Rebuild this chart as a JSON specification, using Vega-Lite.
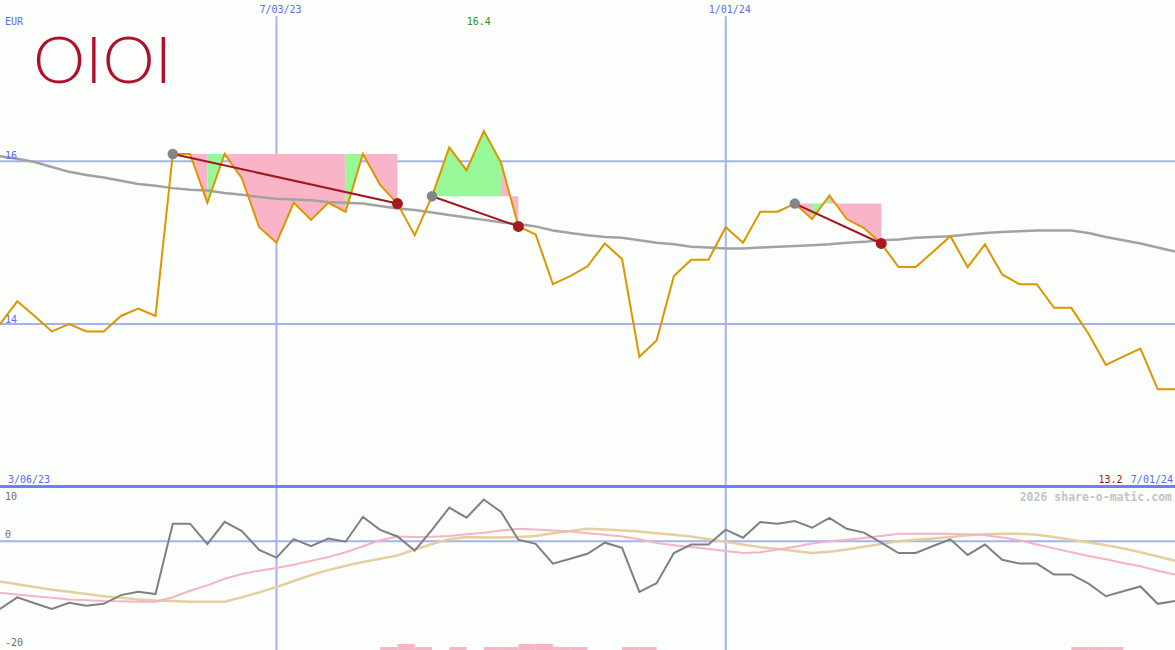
{
  "$schema": "https://vega.github.io/schema/vega-lite/v6.json",
  "background": "#fbfefb",
  "padding": 0,
  "spacing": 0,
  "config": {"view": {"stroke": null}, "axis": {"disable": true}, "legend": {"disable": true}},
  "datasets": {
    "px": [
      {"d":"2023-03-13","p":14.00,"ma":16.06,"m":-12.45,"a1":-9.45,"a2":-7.4},
      {"d":"2023-03-20","p":14.28,"ma":16.03,"m":-10.3,"a1":-9.8,"a2":-7.9},
      {"d":"2023-03-27","p":14.10,"ma":15.99,"m":-11.4,"a1":-10.1,"a2":-8.4},
      {"d":"2023-04-03","p":13.91,"ma":15.93,"m":-12.45,"a1":-10.4,"a2":-8.9},
      {"d":"2023-04-10","p":14.00,"ma":15.87,"m":-11.3,"a1":-10.7,"a2":-9.3},
      {"d":"2023-04-17","p":13.91,"ma":15.83,"m":-11.85,"a1":-10.85,"a2":-9.7},
      {"d":"2023-04-24","p":13.91,"ma":15.80,"m":-11.5,"a1":-11.0,"a2":-10.1},
      {"d":"2023-05-01","p":14.10,"ma":15.76,"m":-9.9,"a1":-11.05,"a2":-10.4},
      {"d":"2023-05-08","p":14.19,"ma":15.72,"m":-9.3,"a1":-11.1,"a2":-10.7},
      {"d":"2023-05-15","p":14.10,"ma":15.70,"m":-9.7,"a1":-11.1,"a2":-10.9},
      {"d":"2023-05-22","p":16.09,"ma":15.67,"m":3.25,"a1":-10.3,"a2":-11.0},
      {"d":"2023-05-29","p":16.09,"ma":15.65,"m":3.25,"a1":-9.1,"a2":-11.1},
      {"d":"2023-06-05","p":15.49,"ma":15.64,"m":-0.5,"a1":-8.1,"a2":-11.1},
      {"d":"2023-06-12","p":16.09,"ma":15.61,"m":3.6,"a1":-6.9,"a2":-11.1},
      {"d":"2023-06-19","p":15.79,"ma":15.59,"m":1.9,"a1":-6.0,"a2":-10.3},
      {"d":"2023-06-26","p":15.19,"ma":15.56,"m":-1.6,"a1":-5.4,"a2":-9.4},
      {"d":"2023-07-03","p":15.00,"ma":15.54,"m":-3.0,"a1":-4.9,"a2":-8.4},
      {"d":"2023-07-10","p":15.49,"ma":15.53,"m":0.4,"a1":-4.3,"a2":-7.3},
      {"d":"2023-07-17","p":15.28,"ma":15.52,"m":-0.9,"a1":-3.6,"a2":-6.2},
      {"d":"2023-07-24","p":15.49,"ma":15.50,"m":0.5,"a1":-2.9,"a2":-5.3},
      {"d":"2023-07-31","p":15.38,"ma":15.49,"m":-0.07,"a1":-2.0,"a2":-4.5},
      {"d":"2023-08-07","p":16.09,"ma":15.48,"m":4.5,"a1":-0.9,"a2":-3.8},
      {"d":"2023-08-14","p":15.71,"ma":15.45,"m":2.1,"a1":0.2,"a2":-3.2},
      {"d":"2023-08-21","p":15.48,"ma":15.42,"m":0.9,"a1":0.9,"a2":-2.6},
      {"d":"2023-08-28","p":15.09,"ma":15.40,"m":-1.7,"a1":0.8,"a2":-1.5},
      {"d":"2023-09-04","p":15.57,"ma":15.37,"m":2.1,"a1":0.85,"a2":-0.5},
      {"d":"2023-09-11","p":16.17,"ma":15.34,"m":6.2,"a1":1.0,"a2":0.4},
      {"d":"2023-09-18","p":15.89,"ma":15.31,"m":4.35,"a1":1.3,"a2":0.8},
      {"d":"2023-09-25","p":16.37,"ma":15.28,"m":7.7,"a1":1.6,"a2":0.7},
      {"d":"2023-10-02","p":15.98,"ma":15.25,"m":5.4,"a1":2.0,"a2":0.7},
      {"d":"2023-10-09","p":15.20,"ma":15.23,"m":0.3,"a1":2.3,"a2":0.8},
      {"d":"2023-10-16","p":15.10,"ma":15.20,"m":-0.45,"a1":2.2,"a2":1.0},
      {"d":"2023-10-23","p":14.49,"ma":15.15,"m":-4.1,"a1":2.0,"a2":1.5},
      {"d":"2023-10-30","p":14.59,"ma":15.12,"m":-3.2,"a1":1.8,"a2":1.9},
      {"d":"2023-11-06","p":14.71,"ma":15.09,"m":-2.3,"a1":1.5,"a2":2.3},
      {"d":"2023-11-13","p":14.99,"ma":15.07,"m":-0.25,"a1":1.2,"a2":2.2},
      {"d":"2023-11-20","p":14.80,"ma":15.06,"m":-1.2,"a1":0.9,"a2":2.0},
      {"d":"2023-11-27","p":13.60,"ma":15.03,"m":-9.3,"a1":0.4,"a2":1.8},
      {"d":"2023-12-04","p":13.80,"ma":15.00,"m":-7.7,"a1":-0.3,"a2":1.5},
      {"d":"2023-12-11","p":14.59,"ma":14.98,"m":-2.15,"a1":-0.7,"a2":1.2},
      {"d":"2023-12-18","p":14.79,"ma":14.95,"m":-0.6,"a1":-1.05,"a2":0.9},
      {"d":"2023-12-25","p":14.79,"ma":14.94,"m":-0.6,"a1":-1.4,"a2":0.4},
      {"d":"2024-01-01","p":15.19,"ma":14.93,"m":2.15,"a1":-1.8,"a2":-0.1},
      {"d":"2024-01-08","p":15.00,"ma":14.93,"m":0.67,"a1":-2.15,"a2":-0.6},
      {"d":"2024-01-15","p":15.38,"ma":14.94,"m":3.56,"a1":-2.0,"a2":-1.1},
      {"d":"2024-01-22","p":15.38,"ma":14.95,"m":3.25,"a1":-1.5,"a2":-1.4},
      {"d":"2024-01-29","p":15.48,"ma":14.96,"m":3.75,"a1":-1.0,"a2":-1.8},
      {"d":"2024-02-05","p":15.29,"ma":14.97,"m":2.5,"a1":-0.4,"a2":-2.15},
      {"d":"2024-02-12","p":15.58,"ma":14.98,"m":4.3,"a1":0.0,"a2":-1.9},
      {"d":"2024-02-19","p":15.29,"ma":15.00,"m":2.3,"a1":0.3,"a2":-1.5},
      {"d":"2024-02-26","p":15.18,"ma":15.01,"m":1.6,"a1":0.6,"a2":-1.0},
      {"d":"2024-03-04","p":14.99,"ma":15.03,"m":-0.25,"a1":1.0,"a2":-0.5},
      {"d":"2024-03-11","p":14.70,"ma":15.04,"m":-2.15,"a1":1.4,"a2":0.0},
      {"d":"2024-03-18","p":14.70,"ma":15.06,"m":-2.15,"a1":1.4,"a2":0.3},
      {"d":"2024-03-25","p":14.89,"ma":15.07,"m":-0.86,"a1":1.4,"a2":0.5},
      {"d":"2024-04-01","p":15.08,"ma":15.08,"m":0.37,"a1":1.4,"a2":0.8},
      {"d":"2024-04-08","p":14.70,"ma":15.10,"m":-2.5,"a1":1.3,"a2":1.1},
      {"d":"2024-04-15","p":14.98,"ma":15.12,"m":-0.6,"a1":1.1,"a2":1.3},
      {"d":"2024-04-22","p":14.61,"ma":15.13,"m":-3.4,"a1":0.7,"a2":1.4},
      {"d":"2024-04-29","p":14.49,"ma":15.14,"m":-4.1,"a1":0.2,"a2":1.4},
      {"d":"2024-05-06","p":14.49,"ma":15.15,"m":-4.1,"a1":-0.6,"a2":1.2},
      {"d":"2024-05-13","p":14.20,"ma":15.15,"m":-6.1,"a1":-1.3,"a2":0.8},
      {"d":"2024-05-20","p":14.20,"ma":15.15,"m":-6.1,"a1":-2.0,"a2":0.3},
      {"d":"2024-05-27","p":13.88,"ma":15.12,"m":-7.8,"a1":-2.7,"a2":-0.2},
      {"d":"2024-06-03","p":13.50,"ma":15.07,"m":-10.1,"a1":-3.3,"a2":-0.7},
      {"d":"2024-06-10","p":13.60,"ma":15.03,"m":-9.2,"a1":-4.0,"a2":-1.3},
      {"d":"2024-06-17","p":13.70,"ma":14.99,"m":-8.3,"a1":-4.6,"a2":-2.0},
      {"d":"2024-06-24","p":13.20,"ma":14.94,"m":-11.5,"a1":-5.4,"a2":-2.8},
      {"d":"2024-07-01","p":13.20,"ma":14.89,"m":-11.0,"a1":-6.1,"a2":-3.6}
    ],
    "zones": [
      {"s":"P1","c":"pink","d":"2023-05-22","p":16.09,"ref":16.09},
      {"s":"P1","c":"pink","d":"2023-05-29","p":16.09,"ref":16.09},
      {"s":"P1","c":"pink","d":"2023-06-05","p":15.49,"ref":16.09},
      {"s":"G1","c":"green","d":"2023-06-05","p":15.49,"ref":16.09},
      {"s":"G1","c":"green","d":"2023-06-12","p":16.09,"ref":16.09},
      {"s":"P2","c":"pink","d":"2023-06-12","p":16.09,"ref":16.09},
      {"s":"P2","c":"pink","d":"2023-06-19","p":15.79,"ref":16.09},
      {"s":"P2","c":"pink","d":"2023-06-26","p":15.19,"ref":16.09},
      {"s":"P2","c":"pink","d":"2023-07-03","p":15.00,"ref":16.09},
      {"s":"P2","c":"pink","d":"2023-07-10","p":15.49,"ref":16.09},
      {"s":"P2","c":"pink","d":"2023-07-17","p":15.28,"ref":16.09},
      {"s":"P2","c":"pink","d":"2023-07-24","p":15.49,"ref":16.09},
      {"s":"P2","c":"pink","d":"2023-07-31","p":15.38,"ref":16.09},
      {"s":"G2","c":"green","d":"2023-07-31","p":15.38,"ref":16.09},
      {"s":"G2","c":"green","d":"2023-08-07","p":16.09,"ref":16.09},
      {"s":"P3","c":"pink","d":"2023-08-07","p":16.09,"ref":16.09},
      {"s":"P3","c":"pink","d":"2023-08-14","p":15.71,"ref":16.09},
      {"s":"P3","c":"pink","d":"2023-08-21","p":15.48,"ref":16.09},
      {"s":"G3","c":"green","d":"2023-09-04","p":15.57,"ref":15.57},
      {"s":"G3","c":"green","d":"2023-09-11","p":16.17,"ref":15.57},
      {"s":"G3","c":"green","d":"2023-09-18","p":15.89,"ref":15.57},
      {"s":"G3","c":"green","d":"2023-09-25","p":16.37,"ref":15.57},
      {"s":"G3","c":"green","d":"2023-10-02","p":15.98,"ref":15.57},
      {"s":"P4","c":"pink","d":"2023-10-02","p":15.98,"ref":15.57},
      {"s":"P4","c":"pink","d":"2023-10-09","p":15.20,"ref":15.57},
      {"s":"P5","c":"pink","d":"2024-01-29","p":15.48,"ref":15.48},
      {"s":"P5","c":"pink","d":"2024-02-05","p":15.29,"ref":15.48},
      {"s":"G4","c":"green","d":"2024-02-05","p":15.29,"ref":15.48},
      {"s":"G4","c":"green","d":"2024-02-12","p":15.58,"ref":15.48},
      {"s":"P6","c":"pink","d":"2024-02-12","p":15.58,"ref":15.48},
      {"s":"P6","c":"pink","d":"2024-02-19","p":15.29,"ref":15.48},
      {"s":"P6","c":"pink","d":"2024-02-26","p":15.18,"ref":15.48},
      {"s":"P6","c":"pink","d":"2024-03-04","p":14.99,"ref":15.48}
    ],
    "trend": [
      {"t":"A","r":"s","d":"2023-05-22","p":16.09},
      {"t":"A","r":"e","d":"2023-08-21","p":15.48},
      {"t":"B","r":"s","d":"2023-09-04","p":15.57},
      {"t":"B","r":"e","d":"2023-10-09","p":15.20},
      {"t":"C","r":"s","d":"2024-01-29","p":15.48},
      {"t":"C","r":"e","d":"2024-03-04","p":14.99}
    ],
    "vgrid": [
      {"d":"2023-07-03","t":"7/03/23"},
      {"d":"2024-01-01","t":"1/01/24"}
    ],
    "bars": [
      {"d":"2023-08-14","d1":"2023-08-21","v":-19.45},
      {"d":"2023-08-21","d1":"2023-08-28","v":-18.9},
      {"d":"2023-08-28","d1":"2023-09-04","v":-19.45},
      {"d":"2023-09-11","d1":"2023-09-18","v":-19.45},
      {"d":"2023-09-25","d1":"2023-10-02","v":-19.45},
      {"d":"2023-10-02","d1":"2023-10-09","v":-19.45},
      {"d":"2023-10-09","d1":"2023-10-16","v":-18.9},
      {"d":"2023-10-16","d1":"2023-10-23","v":-18.9},
      {"d":"2023-10-23","d1":"2023-10-30","v":-19.45},
      {"d":"2023-10-30","d1":"2023-11-06","v":-19.45},
      {"d":"2023-11-20","d1":"2023-11-27","v":-19.45},
      {"d":"2023-11-27","d1":"2023-12-04","v":-19.45},
      {"d":"2024-05-20","d1":"2024-05-27","v":-19.45},
      {"d":"2024-05-27","d1":"2024-06-03","v":-19.45},
      {"d":"2024-06-03","d1":"2024-06-10","v":-19.45}
    ]
  },
  "vconcat": [
    {
      "width": 1175,
      "height": 487,
      "layer": [
        {
          "data": {"values": [{"p": 16}, {"p": 14}]},
          "mark": {"type": "rule", "color": "#a4b2f2", "strokeWidth": 2, "clip": true},
          "encoding": {
            "y": {"field": "p", "type": "quantitative", "scale": {"domain": [12, 17.98], "nice": false, "zero": false}}
          }
        },
        {
          "data": {"name": "vgrid"},
          "mark": {"type": "rule", "color": "#a4b2f2", "strokeWidth": 2, "clip": true},
          "encoding": {
            "x": {"field": "d", "type": "temporal", "scale": {"type": "utc", "domain": [{"year": 2023, "month": 3, "date": 13, "utc": true}, {"year": 2024, "month": 7, "date": 1, "utc": true}]}},
            "y": {"datum": 17.78, "type": "quantitative"},
            "y2": {"datum": 12}
          }
        },
        {
          "data": {"name": "zones"},
          "transform": [{"filter": "datum.c == 'pink'"}],
          "mark": {"type": "area", "color": "#fab4c8", "opacity": 1, "clip": true},
          "encoding": {
            "x": {"field": "d", "type": "temporal"},
            "y": {"field": "p", "type": "quantitative", "stack": null},
            "y2": {"field": "ref"},
            "detail": {"field": "s"}
          }
        },
        {
          "data": {"name": "zones"},
          "transform": [{"filter": "datum.c == 'green'"}],
          "mark": {"type": "area", "color": "#98f898", "opacity": 1, "clip": true},
          "encoding": {
            "x": {"field": "d", "type": "temporal"},
            "y": {"field": "p", "type": "quantitative", "stack": null},
            "y2": {"field": "ref"},
            "detail": {"field": "s"}
          }
        },
        {
          "data": {"name": "px"},
          "mark": {"type": "line", "color": "#a2a2a2", "strokeWidth": 2.5, "clip": true},
          "encoding": {
            "x": {"field": "d", "type": "temporal"},
            "y": {"field": "ma", "type": "quantitative"}
          }
        },
        {
          "data": {"name": "px"},
          "mark": {"type": "line", "color": "#dc9600", "strokeWidth": 2, "clip": true},
          "encoding": {
            "x": {"field": "d", "type": "temporal"},
            "y": {"field": "p", "type": "quantitative"}
          }
        },
        {
          "data": {"name": "trend"},
          "mark": {"type": "line", "color": "#a3161f", "strokeWidth": 2, "clip": true},
          "encoding": {
            "x": {"field": "d", "type": "temporal"},
            "y": {"field": "p", "type": "quantitative"},
            "detail": {"field": "t"}
          }
        },
        {
          "data": {"name": "trend"},
          "transform": [{"filter": "datum.r == 's'"}],
          "mark": {"type": "circle", "color": "#858585", "opacity": 1, "size": 110},
          "encoding": {
            "x": {"field": "d", "type": "temporal"},
            "y": {"field": "p", "type": "quantitative"}
          }
        },
        {
          "data": {"name": "trend"},
          "transform": [{"filter": "datum.r == 'e'"}],
          "mark": {"type": "circle", "color": "#a8181e", "opacity": 1, "size": 120},
          "encoding": {
            "x": {"field": "d", "type": "temporal"},
            "y": {"field": "p", "type": "quantitative"}
          }
        },
        {
          "data": {"name": "vgrid"},
          "mark": {"type": "text", "font": "DejaVu Sans Mono", "fontSize": 10, "color": "#5a6cf0", "align": "center", "baseline": "alphabetic", "dx": 4},
          "encoding": {
            "x": {"field": "d", "type": "temporal"},
            "y": {"datum": 17.82, "type": "quantitative"},
            "text": {"field": "t"}
          }
        },
        {
          "data": {"values": [
            {"d": "2023-03-13", "p": 17.673, "t": "EUR"},
            {"d": "2023-03-13", "p": 16.025, "t": "16"},
            {"d": "2023-03-13", "p": 14.014, "t": "14"}
          ]},
          "mark": {"type": "text", "font": "DejaVu Sans Mono", "fontSize": 10, "color": "#5a6cf0", "align": "left", "baseline": "alphabetic", "dx": 5},
          "encoding": {
            "x": {"field": "d", "type": "temporal"},
            "y": {"field": "p", "type": "quantitative"},
            "text": {"field": "t"}
          }
        },
        {
          "data": {"values": [{"d": "2023-03-13", "p": 12.045, "t": "3/06/23"}]},
          "mark": {"type": "text", "font": "DejaVu Sans Mono", "fontSize": 10, "color": "#5a6cf0", "align": "left", "baseline": "alphabetic", "dx": 8},
          "encoding": {
            "x": {"field": "d", "type": "temporal"},
            "y": {"field": "p", "type": "quantitative"},
            "text": {"field": "t"}
          }
        },
        {
          "data": {"values": [{"d": "2023-09-25", "p": 17.673, "t": "16.4"}]},
          "mark": {"type": "text", "font": "DejaVu Sans Mono", "fontSize": 10, "color": "#1f9a1f", "align": "center", "baseline": "alphabetic", "dx": -5},
          "encoding": {
            "x": {"field": "d", "type": "temporal"},
            "y": {"field": "p", "type": "quantitative"},
            "text": {"field": "t"}
          }
        },
        {
          "data": {"values": [{"d": "2024-07-01", "p": 12.045, "t": "13.2"}]},
          "mark": {"type": "text", "font": "DejaVu Sans Mono", "fontSize": 10, "color": "#a0141e", "align": "right", "baseline": "alphabetic", "dx": -52.5},
          "encoding": {
            "x": {"field": "d", "type": "temporal"},
            "y": {"field": "p", "type": "quantitative"},
            "text": {"field": "t"}
          }
        },
        {
          "data": {"values": [{"d": "2024-07-01", "p": 12.045, "t": "7/01/24"}]},
          "mark": {"type": "text", "font": "DejaVu Sans Mono", "fontSize": 10, "color": "#5a6cf0", "align": "right", "baseline": "alphabetic", "dx": -2},
          "encoding": {
            "x": {"field": "d", "type": "temporal"},
            "y": {"field": "p", "type": "quantitative"},
            "text": {"field": "t"}
          }
        },
        {
          "data": {"values": [{"d": "2023-03-13", "p": 16.957, "t": "OIOI"}]},
          "mark": {"type": "text", "font": "Lato", "fontWeight": 300, "fontSize": 66, "color": "#b0102a", "align": "left", "baseline": "alphabetic", "dx": 33},
          "encoding": {
            "x": {"field": "d", "type": "temporal"},
            "y": {"field": "p", "type": "quantitative"},
            "text": {"field": "t"}
          }
        },
        {
          "data": {"values": [{"p": 12.006}]},
          "mark": {"type": "rule", "color": "#7080f0", "strokeWidth": 3, "clip": true},
          "encoding": {
            "y": {"field": "p", "type": "quantitative"}
          }
        }
      ]
    },
    {
      "width": 1175,
      "height": 163,
      "layer": [
        {
          "data": {"values": [{"v": 0}]},
          "mark": {"type": "rule", "color": "#a4b2f2", "strokeWidth": 2, "clip": true},
          "encoding": {
            "y": {"field": "v", "type": "quantitative", "scale": {"domain": [-20, 10], "nice": false, "zero": false}}
          }
        },
        {
          "data": {"name": "vgrid"},
          "mark": {"type": "rule", "color": "#a4b2f2", "strokeWidth": 2, "clip": true},
          "encoding": {
            "x": {"field": "d", "type": "temporal", "scale": {"type": "utc", "domain": [{"year": 2023, "month": 3, "date": 13, "utc": true}, {"year": 2024, "month": 7, "date": 1, "utc": true}]}}
          }
        },
        {
          "data": {"name": "bars"},
          "mark": {"type": "rect", "color": "#fab4c8", "opacity": 1, "clip": true},
          "encoding": {
            "x": {"field": "d", "type": "temporal"},
            "x2": {"field": "d1"},
            "y": {"field": "v", "type": "quantitative"},
            "y2": {"datum": -20}
          }
        },
        {
          "data": {"name": "px"},
          "mark": {"type": "line", "color": "#e6cf9f", "strokeWidth": 2.5, "clip": true},
          "encoding": {
            "x": {"field": "d", "type": "temporal"},
            "y": {"field": "a2", "type": "quantitative"}
          }
        },
        {
          "data": {"name": "px"},
          "mark": {"type": "line", "color": "#f8b2c6", "strokeWidth": 2, "clip": true},
          "encoding": {
            "x": {"field": "d", "type": "temporal"},
            "y": {"field": "a1", "type": "quantitative"}
          }
        },
        {
          "data": {"name": "px"},
          "mark": {"type": "line", "color": "#808080", "strokeWidth": 2, "clip": true},
          "encoding": {
            "x": {"field": "d", "type": "temporal"},
            "y": {"field": "m", "type": "quantitative"}
          }
        },
        {
          "data": {"values": [
            {"d": "2023-03-13", "v": 7.6, "t": "10"},
            {"d": "2023-03-13", "v": 0.61, "t": "0"},
            {"d": "2023-03-13", "v": -19.2, "t": "-20"}
          ]},
          "mark": {"type": "text", "font": "DejaVu Sans Mono", "fontSize": 10, "color": "#707070", "align": "left", "baseline": "alphabetic", "dx": 5},
          "encoding": {
            "x": {"field": "d", "type": "temporal"},
            "y": {"field": "v", "type": "quantitative"},
            "text": {"field": "t"}
          }
        },
        {
          "data": {"values": [{"d": "2024-07-01", "v": 7.42, "t": "2026 share-o-matic.com"}]},
          "mark": {"type": "text", "font": "DejaVu Sans Mono", "fontSize": 11.5, "fontWeight": "bold", "color": "#c4c4c4", "align": "right", "baseline": "alphabetic", "dx": -3},
          "encoding": {
            "x": {"field": "d", "type": "temporal"},
            "y": {"field": "v", "type": "quantitative"},
            "text": {"field": "t"}
          }
        },
        {
          "data": {"values": [{"v": 10}]},
          "mark": {"type": "rule", "color": "#7080f0", "strokeWidth": 2, "clip": true},
          "encoding": {
            "y": {"field": "v", "type": "quantitative"}
          }
        }
      ]
    }
  ]
}
